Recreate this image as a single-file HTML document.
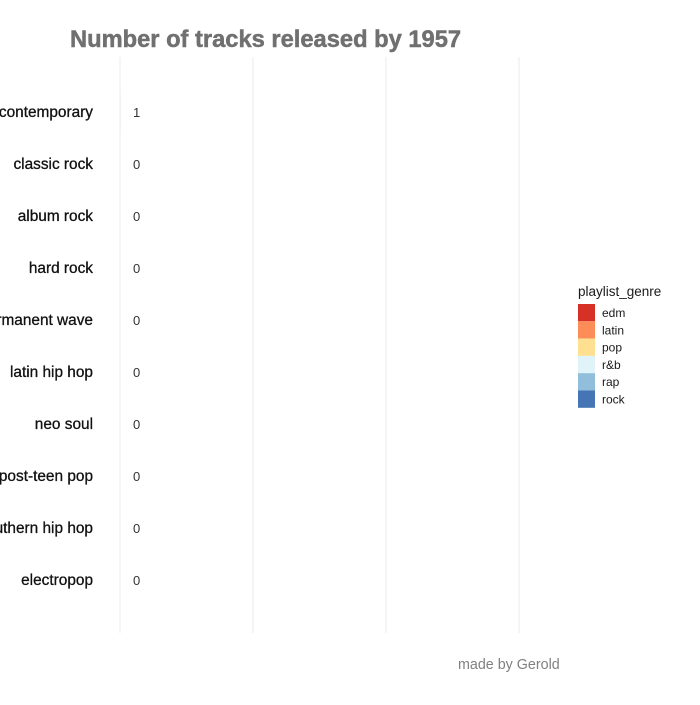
<!DOCTYPE html>
<html><head><meta charset="utf-8"><style>
body{margin:0;background:#fff;font-family:"Liberation Sans",sans-serif}
</style></head><body>
<svg width="700" height="700" xmlns="http://www.w3.org/2000/svg">
<rect width="700" height="700" fill="#fff"/>
<text x="70" y="47" font-size="23.7" font-weight="700" fill="#707070" stroke="#707070" stroke-width="0.5" font-family="Liberation Sans">Number of tracks released by 1957</text>
<g id="grid"></g><g id="bars"></g><g id="labels"></g>
<text x="458" y="669" font-size="14.3" fill="#808080" font-family="Liberation Sans">made by Gerold</text>
<g id="legend"></g>
</svg>
<script>
const categories=["urban contemporary","classic rock","album rock","hard rock","permanent wave","latin hip hop","neo soul","post-teen pop","southern hip hop","electropop"];
const values=[1,0,0,0,0,0,0,0,0,0];
const genres=["edm","latin","pop","r&b","rap","rock"];
const genreColors=["#d73027","#fc8d59","#fee090","#e0f3f8","#91bfdb","#4575b4"];
const gridTicks=[0,5000,10000,15000];
const NS="http://www.w3.org/2000/svg";
const x=v=>120+v*133/5000;
const y=i=>112+i*52;
function mk(t,a,p){const e=document.createElementNS(NS,t);for(const k in a)e.setAttribute(k,a[k]);p.appendChild(e);return e;}
const grid=document.getElementById('grid');
gridTicks.forEach(t=>{const l=mk('line',{x1:x(t),x2:x(t),y1:57,y2:633,stroke:'#ebebeb','stroke-width':1},grid);

});
const bars=document.getElementById('bars'),labels=document.getElementById('labels');
categories.forEach((c,i)=>{
const r=mk('rect',{x:x(0),y:y(i)-20,width:x(values[i])-x(0),height:40,fill:'#4575b4'},bars);


const tl=mk('text',{x:93,y:y(i)+5,'text-anchor':'end','font-size':15.4,fill:'#111',stroke:'#111','stroke-width':0.3,'font-family':'Liberation Sans'},labels);tl.textContent=c;


const tv=mk('text',{x:x(values[i])+13,y:y(i)+5,'font-size':13,fill:'#333','font-family':'Liberation Sans'},labels);tv.textContent=values[i];


});
const lg=document.getElementById('legend');
const lt=mk('text',{x:578,y:296,'font-size':13.5,fill:'#1a1a1a','font-family':'Liberation Sans'},lg);lt.textContent='playlist_genre';


genres.forEach((g,i)=>{
const r=mk('rect',{x:578,y:304+i*17.3,width:17,height:17.3,fill:genreColors[i]},lg);


const t=mk('text',{x:602,y:317+i*17.3,'font-size':12,fill:'#1a1a1a','font-family':'Liberation Sans'},lg);t.textContent=g;


});
</script>
</body></html>
